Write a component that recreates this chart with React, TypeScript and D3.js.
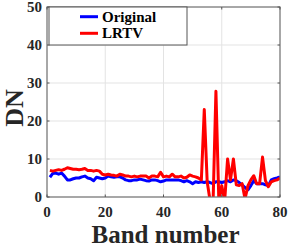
import React from "react";
import * as d3 from "d3";

const bands: number[] = d3.range(1, 81);
const original: number[] = [
  5.2, 6.2, 6.3, 6.0, 6.3, 5.5, 4.5, 4.5, 4.8, 5.0,
  5.0, 5.3, 5.5, 5.0, 4.8, 4.3, 5.2, 5.0, 4.8, 5.0,
  5.5, 5.3, 5.2, 5.3, 5.3, 5.0, 4.5, 4.3, 4.3, 4.5,
  4.5, 4.7, 4.5, 4.3, 4.2, 4.5, 4.5, 4.3, 4.0, 4.2,
  4.5, 4.5, 4.5, 4.5, 4.5, 4.3, 4.0, 4.3, 4.0, 3.5,
  4.0, 3.8, 4.0, 3.8, 4.0, 3.8, 3.5, 4.0, 4.0, 3.8,
  4.0, 4.3, 4.0, 4.5, 4.3, 3.8, 3.2, 2.5, 1.9, 3.0,
  4.3, 3.5, 3.5, 3.5, 3.2, 3.0, 4.5, 4.8, 5.0, 5.3,
];
const lrtv: number[] = [
  7.0, 6.8, 7.0, 7.2, 7.0, 7.3, 7.7, 7.5, 7.3, 7.3,
  7.2, 7.3, 7.5, 7.0, 7.0, 6.8, 7.0, 6.8, 6.0, 5.8,
  6.0, 5.8, 5.7, 5.5, 6.0, 5.8, 5.5, 5.5, 5.3, 5.5,
  5.3, 5.5, 5.5, 5.5, 5.0, 5.5, 5.5, 5.3, 6.5, 5.3,
  5.5, 5.3, 6.0, 5.3, 5.3, 5.5, 5.0, 5.2, 5.8, 5.5,
  5.3, 5.0, 4.5, 23.0, 4.0, -1.0, -2.0, 27.8, -1.0, 3.0,
  -1.0, 10.0, 4.5, 10.0, 3.2, 3.0, 3.5, -0.5, 3.0, 4.5,
  5.6, 3.5, 3.5, 10.5, 4.3, 2.7, 4.0, 4.3, 4.5, 5.0,
];
const xTicks: number[] = [0, 20, 40, 60, 80];
const yTicks: number[] = [0, 10, 20, 30, 40, 50];
const seriesNames: string[] = ["Original", "LRTV"];
const seriesColors: string[] = ["#0000ff", "#ff0000"];

export default function App() {
  const W = 291, H = 247;
  const L = 47, R = 280, T = 7, B = 197;
  const x = d3.scaleLinear().domain([0, 80]).range([L, R]);
  const y = d3.scaleLinear().domain([0, 50]).range([B, T]);
  const line = d3
    .line<number>()
    .x((_, i) => x(bands[i]))
    .y((d) => y(d));
  const font = '"Liberation Serif", "DejaVu Serif", serif';
  const series = [original, lrtv];
  return (
    <svg
      width={W}
      height={H}
      style={{ position: "absolute", left: 0, top: 0, background: "#fff", fontFamily: font, fontWeight: 700 }}
    >
      <defs>
        <clipPath id="plotclip">
          <rect x={L} y={T} width={R - L} height={B - T} />
        </clipPath>
      </defs>
      <rect x={L} y={T} width={R - L} height={B - T} fill="#fff" />
      {xTicks.map((t) => (
        <line key={"gx" + t} x1={x(t)} x2={x(t)} y1={T} y2={B} stroke="#e3e3e3" strokeWidth={1} />
      ))}
      {yTicks.map((t) => (
        <line key={"gy" + t} x1={L} x2={R} y1={y(t)} y2={y(t)} stroke="#e3e3e3" strokeWidth={1} />
      ))}
      <g clipPath="url(#plotclip)">
        {series.map((s, i) => (
          <path
            key={i}
            d={line(s) || ""}
            fill="none"
            stroke={seriesColors[i]}
            strokeWidth={3}
            strokeLinejoin="round"
          />
        ))}
      </g>
      <rect x={L} y={T} width={R - L} height={B - T} fill="none" stroke="#777" strokeWidth={1.2} />
      {xTicks.map((t) => (
        <g key={"tx" + t}>
          <line x1={x(t)} x2={x(t)} y1={B} y2={B - 2.5} stroke="#555" />
          <line x1={x(t)} x2={x(t)} y1={T} y2={T + 2.5} stroke="#555" />
          <text x={x(t)} y={217} textAnchor="middle" fontSize={15} fill="#262626">
            {t}
          </text>
        </g>
      ))}
      {yTicks.map((t) => (
        <g key={"ty" + t}>
          <line x1={L} x2={L + 2.5} y1={y(t)} y2={y(t)} stroke="#555" />
          <line x1={R} x2={R - 2.5} y1={y(t)} y2={y(t)} stroke="#555" />
          <text x={42} y={y(t) + 5} textAnchor="end" fontSize={15} fill="#262626">
            {t}
          </text>
        </g>
      ))}
      <text x={(L + R) / 2 + 2} y={243} textAnchor="middle" fontSize={25} fill="#262626">
        Band number
      </text>
      <text
        transform={`translate(23,108) rotate(-90)`}
        textAnchor="middle"
        fontSize={26}
        fill="#262626"
      >
        DN
      </text>
      <rect x={49} y={7} width={138} height={38} fill="#fff" stroke="#555" strokeWidth={1} />
      {seriesNames.map((n, i) => (
        <g key={n}>
          <line
            x1={80}
            x2={98}
            y1={16.7 + i * 16.6}
            y2={16.7 + i * 16.6}
            stroke={seriesColors[i]}
            strokeWidth={3}
          />
          <text x={102} y={16.7 + i * 16.6 + 5} fontSize={15} fill="#000">
            {n}
          </text>
        </g>
      ))}
    </svg>
  );
}
